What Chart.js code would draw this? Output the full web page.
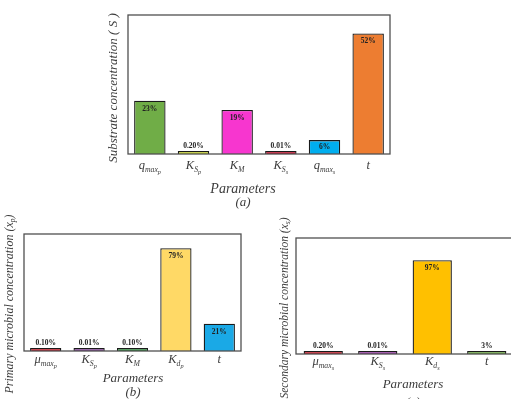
<!DOCTYPE html>
<html><head><meta charset="utf-8">
<script src="https://cdn.jsdelivr.net/npm/chart.js@4.4.1/dist/chart.umd.min.js"></script>
<style>
html,body{margin:0;padding:0;width:511px;height:399px;overflow:hidden;background:#fff;}
canvas{position:absolute;}
</style></head><body>
<canvas id="ca" width="511" height="215" style="left:0;top:0;width:511px;height:215px"></canvas>
<canvas id="cb" width="250" height="184" style="left:0;top:215px;width:250px;height:184px"></canvas>
<canvas id="cc" width="300" height="184" style="left:250px;top:215px;width:300px;height:184px"></canvas>
<script>
// ---- data ----
const categoriesA = ['q_max_p','K_S_p','K_M','K_S_s','q_max_s','t'];
const valuesA = [23, 0.20, 19, 0.01, 6, 52];
const colorsA = ['#70AD47','#C9D42E','#F736CF','#C8102E','#00AEEF','#ED7D31'];

const categoriesB = ['μ_max_p','K_S_p','K_M','K_d_p','t'];
const valuesB = [0.10, 0.01, 0.10, 79, 21];
const colorsB = ['#CC1F2E','#8A4A9E','#2F8F3E','#FFD966','#1AA9E6'];

const categoriesC = ['μ_max_s','K_S_s','K_d_s','t'];
const valuesC = [0.20, 0.01, 97, 3];
const colorsC = ['#CC1F2E','#9B3FA8','#FFC000','#70AD47'];

const SERIF = '"Liberation Serif","DejaVu Serif",serif';
const TXT = '#3c3c3c';

function fmt(v){ return (v >= 1 ? String(v) : v.toFixed(2)) + '%'; }

function richWidth(ctx, segs){
  let w = 0;
  segs.forEach(s => { ctx.font = 'italic ' + s[1] + 'px ' + SERIF; w += ctx.measureText(s[0]).width; });
  return w;
}
function drawRich(ctx, segs, cx, baseY){
  const w = richWidth(ctx, segs);
  let x = cx - w/2;
  ctx.textAlign = 'left';
  segs.forEach(s => { ctx.font = 'italic ' + s[1] + 'px ' + SERIF; ctx.fillText(s[0], x, baseY + s[2]); x += ctx.measureText(s[0]).width; });
}
function catSegs(cat, size){
  const p = cat.split('_');
  const segs = [[p[0], size, 0]];
  if (p[1]) segs.push([p[1], size*0.62, 3]);
  if (p[2]) segs.push([p[2], size*0.5, 5]);
  return segs;
}

const layouts = {
  ca: { cats: categoriesA, tickY: 169, tickSize: 12.5,
        ytitle: [['Substrate concentration ( S )', 13, 0]], ytx: 114, yty: 88,
        xlab: 'Parameters', xlx: 243, xly: 193, xls: 14, sub: '(a)', sy: 206 },
  cb: { cats: categoriesB, tickY: 148, tickSize: 12.5,
        ytitle: [['Primary microbial concentration (x', 12, 0], ['p', 7.5, 3], [')', 12, 0]], ytx: 10, yty: 89,
        xlab: 'Parameters', xlx: 133, xly: 167, xls: 13, sub: '(b)', sy: 181 },
  cc: { cats: categoriesC, tickY: 150, tickSize: 12.5,
        ytitle: [['Secondary microbial concentration (x', 11.5, 0], ['s', 7.5, 3], [')', 11.5, 0]], ytx: 35, yty: 93,
        xlab: 'Parameters', xlx: 163, xly: 173, xls: 13, sub: '(c)', sy: 191 }
};

const deco = {
  id: 'deco',
  afterDatasetsDraw(chart){
    const L = layouts[chart.canvas.id];
    const {ctx, chartArea: a, scales: {x}} = chart;
    ctx.save();
    ctx.strokeStyle = '#505050'; ctx.lineWidth = 1.3;
    ctx.strokeRect(a.left, a.top, a.right - a.left, a.bottom - a.top);
    const meta = chart.getDatasetMeta(0);
    const vals = chart.data.datasets[0].data;
    ctx.fillStyle = '#222';
    ctx.font = 'bold 7.5px ' + SERIF; ctx.textAlign = 'center'; ctx.textBaseline = 'middle';
    meta.data.forEach((bar, i) => {
      const h = bar.base - bar.y;
      const ty = h > 10 ? bar.y + Math.min(8, h/2) : bar.y - 5;
      ctx.fillText(fmt(vals[i]), bar.x, ty);
    });
    ctx.fillStyle = TXT;
    ctx.textBaseline = 'alphabetic';
    L.cats.forEach((c, i) => {
      drawRich(ctx, catSegs(c, L.tickSize), x.getPixelForValue(i), L.tickY);
    });
    drawRich(ctx, [[L.xlab, L.xls, 0]], L.xlx, L.xly);
    drawRich(ctx, [[L.sub, 13, 0]], L.xlx, L.sy);
    ctx.translate(L.ytx, L.yty); ctx.rotate(-Math.PI/2);
    ctx.textBaseline = 'middle';
    drawRich(ctx, L.ytitle, 0, 0);
    ctx.restore();
  }
};

function make(id, cats, vals, cols, ymax, pad){
  new Chart(document.getElementById(id), {
    type: 'bar',
    data: { labels: cats, datasets: [{ data: vals, backgroundColor: cols, borderColor: '#1a1a1a', borderWidth: 1.3, borderSkipped: 'bottom', minBarLength: 3, barPercentage: 0.72, categoryPercentage: 1.0 }] },
    options: {
      responsive: false, animation: false, devicePixelRatio: 1,
      layout: { padding: pad },
      plugins: { legend: { display: false }, tooltip: { enabled: false } },
      scales: {
        x: { display: false },
        y: { display: false, min: 0, max: ymax }
      }
    },
    plugins: [deco]
  });
}
make('ca', categoriesA, valuesA, colorsA, 60, {left: 128, top: 15, right: 121, bottom: 61});
make('cb', categoriesB, valuesB, colorsB, 90, {left: 24, top: 19, right: 9, bottom: 48});
make('cc', categoriesC, valuesC, colorsC, 120, {left: 46, top: 23, right: 36, bottom: 45});
</script>
</body></html>
